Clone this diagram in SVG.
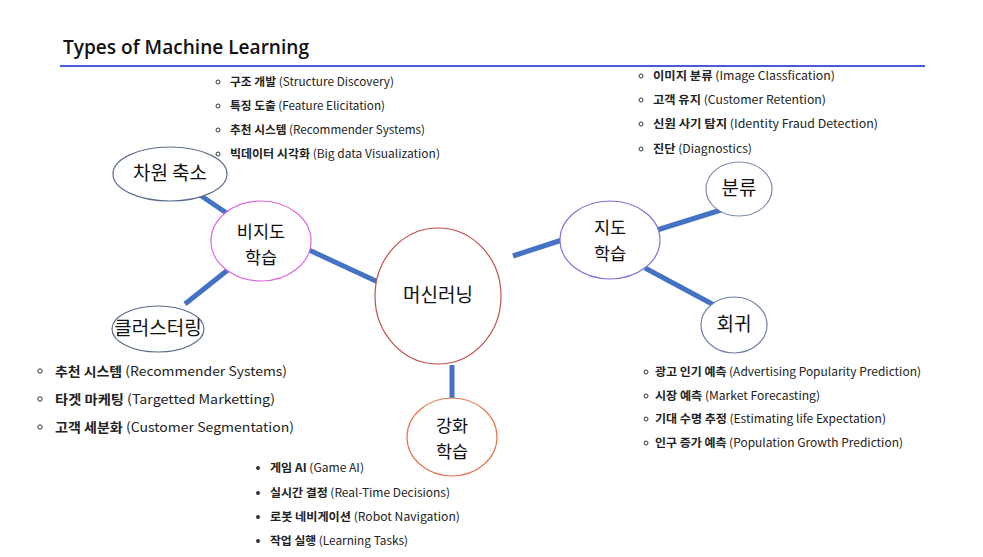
<svg xmlns="http://www.w3.org/2000/svg" width="983" height="557" viewBox="0 0 983 557">
<style>
.bg{fill:#ffffff}
.node{fill:#ffffff;stroke-width:1.2}
.lbl{font-family:"Noto Sans CJK KR","Noto Sans",sans-serif;font-size:19px;fill:#111;text-anchor:middle}
.lbl2{font-family:"Noto Sans CJK KR","Noto Sans",sans-serif;font-size:17.5px;fill:#111;text-anchor:middle}
.conn line{stroke:#4472c4;stroke-width:5;stroke-linecap:butt}
.it{font-family:"Noto Sans CJK KR","Noto Sans",sans-serif;font-size:11.5px;fill:#222}
.itb{font-family:"Noto Sans CJK KR","Noto Sans",sans-serif;font-size:13px;fill:#222}
.k{font-weight:bold}
.ring{fill:none;stroke:#333;stroke-width:1}
.dot{fill:#333}
.title{font-family:"Open Sans","Noto Sans",sans-serif;font-size:19px;font-weight:600;fill:#111}
</style>
<rect class="bg" x="0" y="0" width="983" height="557"/>
<g id="title">
<text class="title" x="63" y="54" textLength="246" lengthAdjust="spacingAndGlyphs">Types of Machine Learning</text>
<line x1="60" y1="66" x2="925" y2="66" stroke="#4a5ad8" stroke-width="2"/>
</g>
<g id="connectors" class="conn">
<line x1="378" y1="282" x2="309" y2="250"/>
<line x1="197" y1="193" x2="228" y2="214"/>
<line x1="185" y1="304" x2="229" y2="269"/>
<line x1="513" y1="256" x2="562" y2="240"/>
<line x1="657" y1="230" x2="721" y2="210"/>
<line x1="645" y1="268" x2="714" y2="305"/>
<line x1="452" y1="365" x2="452" y2="399"/>
</g>
<g id="node-ml">
<ellipse class="node" cx="438" cy="296" rx="63" ry="68" stroke="#c0504d"/>
<text class="lbl" x="438" y="302" font-size="20">머신러닝</text>
</g>
<g id="node-unsup">
<ellipse class="node" cx="261" cy="241" rx="50" ry="40" stroke="#e066e0"/>
<text class="lbl2" x="261" y="238">비지도</text>
<text class="lbl2" x="261" y="264">학습</text>
</g>
<g id="node-dimred">
<ellipse class="node" cx="170" cy="174" rx="57" ry="27" stroke="#5f6f90"/>
<text class="lbl" x="170" y="180">차원 축소</text>
</g>
<g id="node-cluster">
<ellipse class="node" cx="158" cy="329" rx="46" ry="23" stroke="#5a6a8a"/>
<text class="lbl" x="158" y="335" font-size="17">클러스터링</text>
</g>
<g id="node-sup">
<ellipse class="node" cx="610" cy="240" rx="50" ry="39" stroke="#7a72d8"/>
<text class="lbl2" x="610" y="234">지도</text>
<text class="lbl2" x="610" y="260">학습</text>
</g>
<g id="node-class">
<ellipse class="node" cx="739" cy="189" rx="33" ry="27" stroke="#7f8db0"/>
<text class="lbl" x="739" y="195">분류</text>
</g>
<g id="node-reg">
<ellipse class="node" cx="734" cy="325" rx="33" ry="28" stroke="#7080a4"/>
<text class="lbl" x="734" y="331">회귀</text>
</g>
<g id="node-rl">
<ellipse class="node" cx="452" cy="437" rx="45" ry="39" stroke="#e8764f"/>
<text class="lbl2" x="452" y="432">강화</text>
<text class="lbl2" x="452" y="458">학습</text>
</g>
<g id="list-unsup-top">
<circle class="ring" cx="218" cy="82" r="2"/>
<circle class="ring" cx="218" cy="106" r="2"/>
<circle class="ring" cx="218" cy="130" r="2"/>
<circle class="ring" cx="218" cy="154" r="2"/>
<text class="it" x="230" y="86" textLength="164" lengthAdjust="spacingAndGlyphs"><tspan class="k">구조 개발</tspan> (Structure Discovery)</text>
<text class="it" x="230" y="110" textLength="155" lengthAdjust="spacingAndGlyphs"><tspan class="k">특징 도출</tspan> (Feature Elicitation)</text>
<text class="it" x="230" y="134" textLength="195" lengthAdjust="spacingAndGlyphs"><tspan class="k">추천 시스템</tspan> (Recommender Systems)</text>
<text class="it" x="230" y="158" textLength="210" lengthAdjust="spacingAndGlyphs"><tspan class="k">빅데이터 시각화</tspan> (Big data Visualization)</text>
</g>
<g id="list-sup-top">
<circle class="ring" cx="641" cy="76" r="2"/>
<circle class="ring" cx="641" cy="100" r="2"/>
<circle class="ring" cx="641" cy="124" r="2"/>
<circle class="ring" cx="641" cy="149" r="2"/>
<text class="it" x="653" y="80" textLength="182" lengthAdjust="spacingAndGlyphs"><tspan class="k">이미지 분류</tspan> (Image Classfication)</text>
<text class="it" x="653" y="104" textLength="173" lengthAdjust="spacingAndGlyphs"><tspan class="k">고객 유지</tspan> (Customer Retention)</text>
<text class="it" x="653" y="128" textLength="225" lengthAdjust="spacingAndGlyphs"><tspan class="k">신원 사기 탐지</tspan> (Identity Fraud Detection)</text>
<text class="it" x="653" y="153" textLength="99" lengthAdjust="spacingAndGlyphs"><tspan class="k">진단</tspan> (Diagnostics)</text>
</g>
<g id="list-cluster">
<circle class="ring" cx="40" cy="371" r="2.2"/>
<circle class="ring" cx="40" cy="399" r="2.2"/>
<circle class="ring" cx="40" cy="427" r="2.2"/>
<text class="itb" x="55" y="376" textLength="232" lengthAdjust="spacingAndGlyphs"><tspan class="k">추천 시스템</tspan> (Recommender Systems)</text>
<text class="itb" x="55" y="404" textLength="220" lengthAdjust="spacingAndGlyphs"><tspan class="k">타겟 마케팅</tspan> (Targetted Marketting)</text>
<text class="itb" x="55" y="432" textLength="239" lengthAdjust="spacingAndGlyphs"><tspan class="k">고객 세분화</tspan> (Customer Segmentation)</text>
</g>
<g id="list-reg">
<circle class="ring" cx="646" cy="372" r="2"/>
<circle class="ring" cx="646" cy="396" r="2"/>
<circle class="ring" cx="646" cy="419" r="2"/>
<circle class="ring" cx="646" cy="443" r="2"/>
<text class="it" x="655" y="376" textLength="266" lengthAdjust="spacingAndGlyphs"><tspan class="k">광고 인기 예측</tspan> (Advertising Popularity Prediction)</text>
<text class="it" x="655" y="400" textLength="165" lengthAdjust="spacingAndGlyphs"><tspan class="k">시장 예측</tspan> (Market Forecasting)</text>
<text class="it" x="655" y="423" textLength="231" lengthAdjust="spacingAndGlyphs"><tspan class="k">기대 수명 추정</tspan> (Estimating life Expectation)</text>
<text class="it" x="655" y="447" textLength="248" lengthAdjust="spacingAndGlyphs"><tspan class="k">인구 증가 예측</tspan> (Population Growth Prediction)</text>
</g>
<g id="list-rl">
<circle class="dot" cx="258" cy="468" r="2"/>
<circle class="dot" cx="258" cy="493" r="2"/>
<circle class="dot" cx="258" cy="517" r="2"/>
<circle class="dot" cx="258" cy="541" r="2"/>
<text class="it" x="270" y="472" textLength="94" lengthAdjust="spacingAndGlyphs"><tspan class="k">게임 AI</tspan> (Game AI)</text>
<text class="it" x="270" y="497" textLength="180" lengthAdjust="spacingAndGlyphs"><tspan class="k">실시간 결정</tspan> (Real-Time Decisions)</text>
<text class="it" x="270" y="521" textLength="190" lengthAdjust="spacingAndGlyphs"><tspan class="k">로봇 네비게이션</tspan> (Robot Navigation)</text>
<text class="it" x="270" y="545" textLength="138" lengthAdjust="spacingAndGlyphs"><tspan class="k">작업 실행</tspan> (Learning Tasks)</text>
</g>
</svg>
